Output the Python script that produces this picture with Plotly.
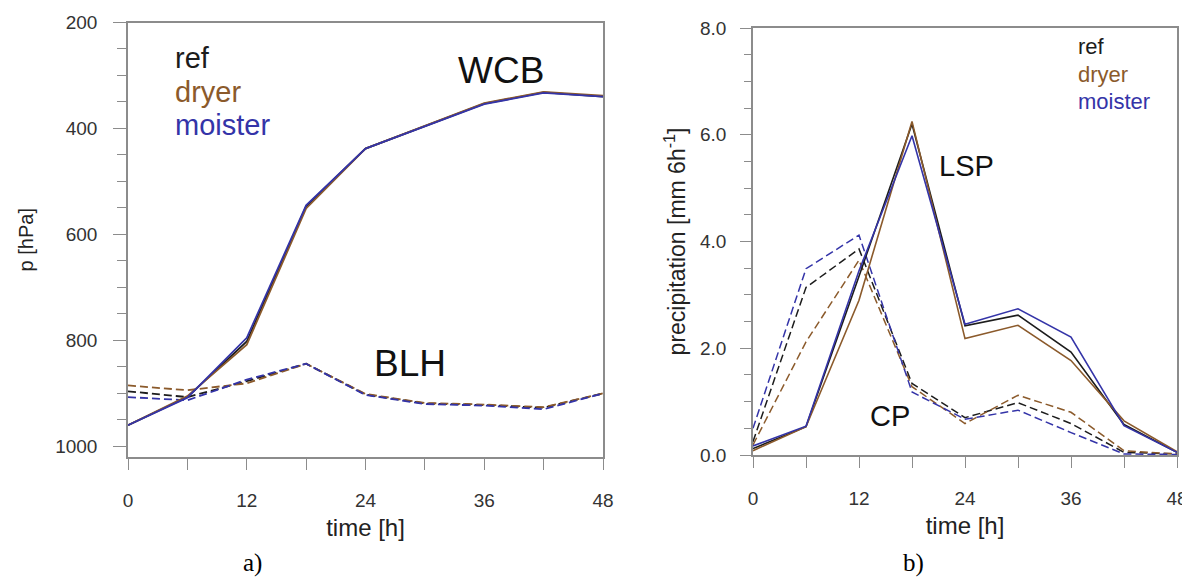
import plotly.graph_objects as go

# ---------------- data ----------------
time_h = [0, 6, 12, 18, 24, 30, 36, 42, 48]

# panel a) pressure [hPa]
wcb_ref = [960, 907, 802, 547, 438, 396, 353, 332, 340]
wcb_dryer = [960, 905, 808, 551, 438, 395, 352, 331, 338]
wcb_moister = [960, 908, 795, 545, 438, 396, 354, 333, 340]

blh_ref = [896, 907, 877, 844, 902, 919, 922, 927, 900]
blh_dryer = [885, 894, 881, 844, 901, 918, 921, 926, 900]
blh_moister = [907, 913, 874, 844, 903, 920, 923, 930, 900]

# panel b) precipitation [mm 6h-1]
lsp_ref = [0.12, 0.53, 3.35, 6.20, 2.42, 2.62, 1.93, 0.57, 0.05]
lsp_dryer = [0.08, 0.53, 2.90, 6.25, 2.18, 2.43, 1.77, 0.64, 0.06]
lsp_moister = [0.17, 0.54, 3.45, 5.98, 2.45, 2.74, 2.21, 0.55, 0.05]

cp_ref = [0.25, 3.14, 3.86, 1.34, 0.70, 0.98, 0.59, 0.05, 0.02]
cp_dryer = [0.19, 2.12, 3.65, 1.28, 0.59, 1.12, 0.80, 0.08, 0.02]
cp_moister = [0.50, 3.49, 4.12, 1.18, 0.67, 0.84, 0.42, 0.02, 0.01]

series_names = ["ref", "dryer", "moister"]
colors = {"ref": "#1c1c1c", "dryer": "#8b5a2b", "moister": "#3434a8"}

left_yticks = [200, 400, 600, 800, 1000]
right_yticks = [0, 2, 4, 6, 8]
x_ticks = [0, 12, 24, 36, 48]

# ---------------- figure ----------------
# the page body has an 8px margin, so the figure is drawn 8px smaller and offset
OFF = 8
W, H = 1190 - OFF, 578 - OFF
fig = go.Figure()

sans = "Liberation Sans, Arial, Helvetica, sans-serif"
frame = "#8c8c8c"

wcb = {"ref": wcb_ref, "dryer": wcb_dryer, "moister": wcb_moister}
blh = {"ref": blh_ref, "dryer": blh_dryer, "moister": blh_moister}
lsp = {"ref": lsp_ref, "dryer": lsp_dryer, "moister": lsp_moister}
cp = {"ref": cp_ref, "dryer": cp_dryer, "moister": cp_moister}

for n in series_names:
    fig.add_trace(go.Scatter(x=time_h, y=blh[n], mode="lines", name=n + " BLH",
                             line=dict(color=colors[n], width=1.8, dash="8px,4px"),
                             xaxis="x", yaxis="y", showlegend=False))
for n in series_names:
    fig.add_trace(go.Scatter(x=time_h, y=wcb[n], mode="lines", name=n + " WCB",
                             line=dict(color=colors[n], width=1.8),
                             xaxis="x", yaxis="y", showlegend=False))
for n in series_names:
    fig.add_trace(go.Scatter(x=time_h, y=cp[n], mode="lines", name=n + " CP",
                             line=dict(color=colors[n], width=1.5, dash="8px,4px"),
                             xaxis="x2", yaxis="y2", showlegend=False))
for n in series_names:
    fig.add_trace(go.Scatter(x=time_h, y=lsp[n], mode="lines", name=n + " LSP",
                             line=dict(color=colors[n], width=1.6),
                             xaxis="x2", yaxis="y2", showlegend=False))


def px_x(p):
    return (p - OFF) / W


def px_y(p):
    return 1 - (p - OFF) / H


axis_common = dict(showline=True, linecolor=frame, linewidth=1.5, mirror=True,
                   showgrid=False, zeroline=False, ticks="outside", tickcolor=frame,
                   tickwidth=1.2, automargin=False,
                   tickfont=dict(family=sans, size=19, color="#333333"))

fig.update_layout(
    width=W, height=H,
    margin=dict(l=0, r=0, t=0, b=0, pad=0),
    paper_bgcolor="white", plot_bgcolor="white",
    showlegend=False,
    xaxis=dict(domain=[px_x(128), px_x(603)], range=[0, 48], tickvals=x_ticks,
               ticklen=11, anchor="y", ticklabelstandoff=14,
               minor=dict(dtick=6, ticks="outside", ticklen=11, tickcolor=frame, tickwidth=1.2),
               title=dict(text="time [h]", font=dict(family=sans, size=24, color="#222222"), standoff=10),
               **axis_common),
    yaxis=dict(domain=[px_y(457), px_y(22.5)], range=[1020, 200], tickvals=left_yticks,
               ticklen=13, anchor="x", ticklabelstandoff=12,
               minor=dict(dtick=50, ticks="outside", ticklen=9, tickcolor=frame, tickwidth=1.2),
               title=dict(text="p [hPa]", font=dict(family=sans, size=20, color="#222222"), standoff=16),
               **axis_common),
    xaxis2=dict(domain=[px_x(753), px_x(1177)], range=[0, 48], tickvals=x_ticks,
                ticklen=11, anchor="y2", ticklabelstandoff=14,
                minor=dict(dtick=6, ticks="outside", ticklen=11, tickcolor=frame, tickwidth=1.2),
                title=dict(text="time [h]", font=dict(family=sans, size=24, color="#222222"), standoff=10),
                **axis_common),
    yaxis2=dict(domain=[px_y(455), px_y(28)], range=[0, 8], tickvals=right_yticks,
                tickformat=".1f", ticklen=11, anchor="x2", ticklabelstandoff=10,
                minor=dict(dtick=0.5, ticks="outside", ticklen=7, tickcolor=frame, tickwidth=1.2),
                title=dict(text="precipitation [mm 6h<sup>-1</sup>]",
                           font=dict(family=sans, size=23, color="#222222"), standoff=8),
                **axis_common),
)

ann = []
# legend texts, panel a
for i, n in enumerate(series_names):
    ann.append(dict(text=n, x=px_x(173), y=px_y(58 + 33.5 * i), xref="paper", yref="paper",
                    xanchor="left", yanchor="middle", showarrow=False,
                    font=dict(family=sans, size=29, color=colors[n])))
# legend texts, panel b
for i, n in enumerate(series_names):
    ann.append(dict(text=n, x=px_x(1076), y=px_y(47 + 27 * i), xref="paper", yref="paper",
                    xanchor="left", yanchor="middle", showarrow=False,
                    font=dict(family=sans, size=22, color=colors[n])))
# curve labels
for txt, cx, cy, sz in [("WCB", 501, 70, 37), ("BLH", 410, 363, 37),
                        ("LSP", 966, 166, 29), ("CP", 890, 416, 29)]:
    ann.append(dict(text=txt, x=px_x(cx), y=px_y(cy), xref="paper", yref="paper",
                    xanchor="center", yanchor="middle", showarrow=False,
                    font=dict(family=sans, size=sz, color="#111111")))
# panel letters
for txt, cx in [("a)", 252), ("b)", 913)]:
    ann.append(dict(text=txt, x=px_x(cx), y=px_y(563), xref="paper", yref="paper",
                    xanchor="center", yanchor="middle", showarrow=False,
                    font=dict(family="Liberation Serif, Times New Roman, serif", size=25, color="#000000")))

fig.update_layout(annotations=ann)
fig.write_html("out.html")
